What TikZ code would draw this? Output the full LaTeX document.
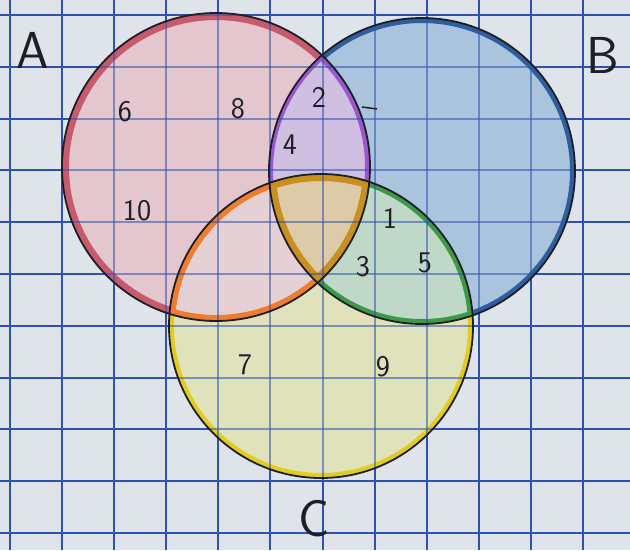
\documentclass[tikz,border=0pt]{standalone}
\usepackage{fontspec}
\definecolor{paper}{HTML}{DFE3EA}
\definecolor{gridc}{HTML}{2F52B0}
\definecolor{pen}{HTML}{1E1E26}
\definecolor{Afill}{HTML}{E3C6CE}
\definecolor{Aband}{HTML}{C85A6E}
\definecolor{Bfill}{HTML}{A9C4DC}
\definecolor{Bband}{HTML}{2E5E9E}
\definecolor{Cfill}{HTML}{DFE2BA}
\definecolor{Cband}{HTML}{E2CC1E}
\definecolor{ABfill}{HTML}{CFC0E2}
\definecolor{ABband}{HTML}{9A58CC}
\definecolor{ACfill}{HTML}{E5D0D3}
\definecolor{ACband}{HTML}{F07C30}
\definecolor{BCfill}{HTML}{BFD8C8}
\definecolor{BCband}{HTML}{3C9A46}
\definecolor{ABCfill}{HTML}{DDCAA8}
\definecolor{ABCband}{HTML}{C8901E}
\tikzset{
  gridline/.style={draw=gridc, line width=2},
  penline/.style={draw=pen, line width=1.8},
  numlabel/.style={text=pen, font=\fontsize{30}{34}\selectfont\sffamily, inner sep=0},
  setlabel/.style={text=pen, font=\fontsize{52}{56}\selectfont\sffamily, inner sep=0}
}
\def\circA{(216,167) circle[radius=154]}
\def\circB{(422,171) circle[radius=153]}
\def\circC{(321,326) circle[radius=152]}
\def\gridX{10,62,114,166,218,270,323,375,427,479,531,583}
\def\gridY{15,67,119,170,222,274,326,378,429,481,533}
\begin{document}
\begin{tikzpicture}[x=1pt,y=-1pt]
\useasboundingbox (0,0) rectangle (630,550);
\fill[paper] (0,0) rectangle (630,550);
% grid
\foreach \x in \gridX \draw[gridline] (\x,0) -- (\x,550);
\foreach \y in \gridY \draw[gridline] (0,\y) -- (630,\y);
% A only
\begin{scope}
  \clip \circA;
  \fill[Afill] \circA;
  \draw[Aband, line width=14] \circA;
\end{scope}
% B only
\begin{scope}
  \clip \circB;
  \fill[Bfill] \circB;
  \draw[Bband, line width=10] \circB;
\end{scope}
% C only
\begin{scope}
  \clip \circC;
  \fill[Cfill] \circC;
  \draw[Cband, line width=10] \circC;
\end{scope}
% A and B
\begin{scope}
  \clip \circA; \clip \circB;
  \fill[ABfill] \circA;
  \draw[ABband, line width=10] \circA;
  \draw[ABband, line width=8] \circB;
\end{scope}
% A and C
\begin{scope}
  \clip \circA; \clip \circC;
  \fill[ACfill] \circA;
  \draw[ACband, line width=12] \circA;
  \draw[ACband, line width=12] \circC;
\end{scope}
% B and C
\begin{scope}
  \clip \circB; \clip \circC;
  \fill[BCfill] \circB;
  \draw[BCband, line width=10] \circB;
  \draw[BCband, line width=10] \circC;
\end{scope}
% A, B and C
\begin{scope}
  \clip \circA; \clip \circB; \clip \circC;
  \fill[ABCfill] \circA;
  \draw[ABCband, line width=14] \circA;
  \draw[ABCband, line width=14] \circB;
  \draw[ABCband, line width=14] \circC;
\end{scope}
% grid seen through the colour
\begin{scope}
  \clip \circA \circB \circC;
  \foreach \x in \gridX \draw[gridline, draw opacity=0.55] (\x,0) -- (\x,550);
  \foreach \y in \gridY \draw[gridline, draw opacity=0.55] (0,\y) -- (630,\y);
\end{scope}
% pen outlines
\draw[penline] \circA;
\draw[penline] \circB;
\draw[penline] \circC;
\coordinate (m1) at (362,107);
\coordinate (m2) at (377,109);
\draw[pen, line width=1.5] (m1) -- (m2);
% labels
\node[setlabel] (lA) at (33,50) {A};
\node[setlabel] (lB) at (603,55) {B};
\node[setlabel] (lC) at (314,519) {C};
\node[numlabel] (n6) at (125,112) {6};
\node[numlabel] (n8) at (238,109) {8};
\node[numlabel] (n2) at (319,97) {2};
\node[numlabel] (n4) at (290,145) {4};
\node[numlabel] (n10) at (137,211) {10};
\node[numlabel] (n1) at (390,218) {1};
\node[numlabel] (n3) at (363,267) {3};
\node[numlabel] (n5) at (425,263) {5};
\node[numlabel] (n7) at (245,365) {7};
\node[numlabel] (n9) at (383,367) {9};
\end{tikzpicture}
\end{document}
